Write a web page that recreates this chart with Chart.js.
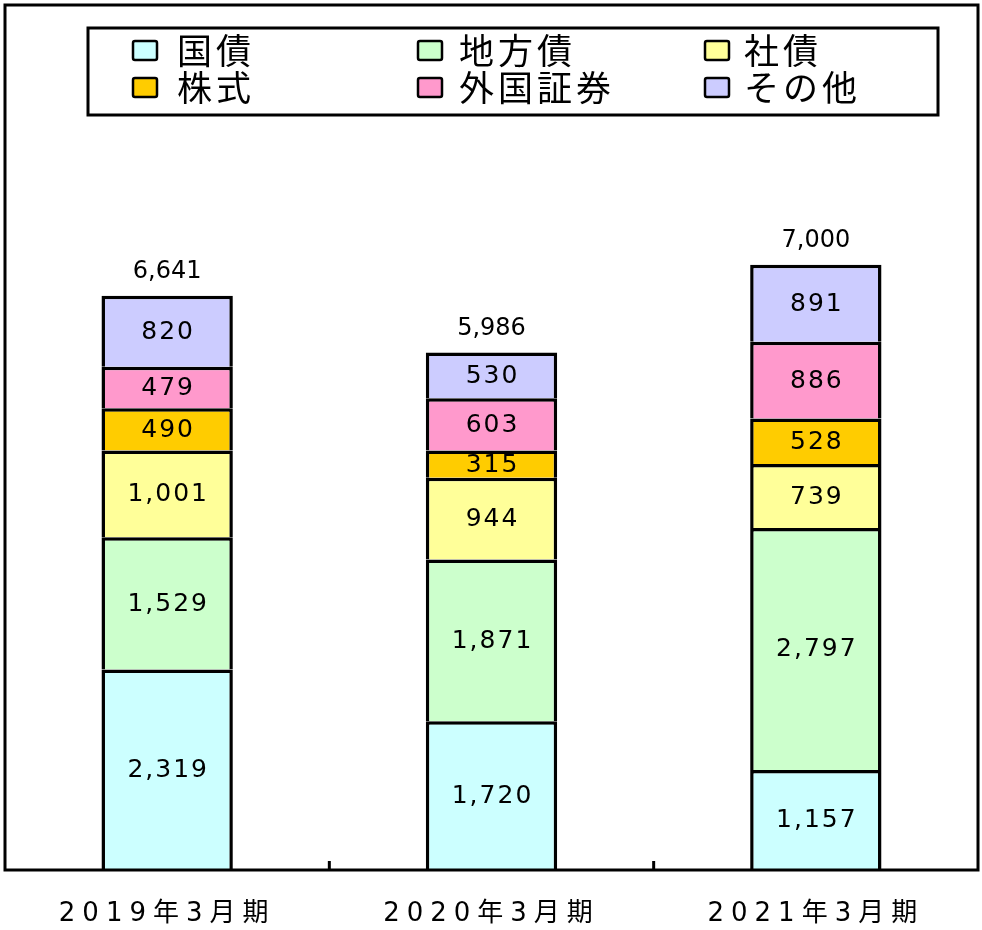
<!DOCTYPE html>
<html>
<head>
<meta charset="utf-8">
<script src="https://cdn.jsdelivr.net/npm/chart.js@4"></script>
<style>
  body { margin: 0; background: #fff; }
</style>
</head>
<body>
<canvas id="chart" width="982" height="930"></canvas>
<script>
const periods = ["2019年3月期", "2020年3月期", "2021年3月期"];
const seriesNames = ["国債", "地方債", "社債", "株式", "外国証券", "その他"];
const kokusai = [2319, 1720, 1157];
const chihousai = [1529, 1871, 2797];
const shasai = [1001, 944, 739];
const kabushiki = [490, 315, 528];
const gaikoku = [479, 603, 886];
const sonota = [820, 530, 891];
const totals = [6641, 5986, 7000];
const colors = ["#ccffff", "#ccffcc", "#ffff99", "#ffcc00", "#ff99cc", "#ccccff"];

const seriesValues = [kokusai, chihousai, shasai, kabushiki, gaikoku, sonota];
const fmt = (v) => v.toLocaleString("en-US");

// frame, inner tick marks, value labels, totals and the boxed legend
const decorations = {
  id: "decorations",
  beforeDraw(chart) {
    chart.ctx.letterSpacing = "7px";
  },
  beforeDatasetsDraw(chart) {
    chart.ctx.letterSpacing = "0px";
  },
  afterDatasetsDraw(chart) {
    const ctx = chart.ctx;
    const area = chart.chartArea;
    const x = chart.scales.x;
    ctx.save();

    // outer frame
    ctx.strokeStyle = "#000";
    ctx.lineWidth = 3;
    ctx.strokeRect(area.left, area.top, area.right - area.left, area.bottom - area.top);

    // tick marks between categories
    for (let i = 0; i < periods.length - 1; i++) {
      const mx = (x.getPixelForValue(i) + x.getPixelForValue(i + 1)) / 2;
      ctx.beginPath();
      ctx.moveTo(mx, area.bottom);
      ctx.lineTo(mx, area.bottom - 9);
      ctx.stroke();
    }

    // values inside segments
    ctx.fillStyle = "#000";
    ctx.textAlign = "center";
    ctx.textBaseline = "middle";
    ctx.font = "25px 'DejaVu Sans'";
    ctx.letterSpacing = "2px";
    chart.data.datasets.forEach((ds, di) => {
      const meta = chart.getDatasetMeta(di);
      meta.data.forEach((bar, i) => {
        ctx.fillText(fmt(ds.data[i]), bar.x + 1, (bar.y + bar.base) / 2 + 1);
      });
    });

    // totals above the bars
    ctx.letterSpacing = "0px";
    ctx.font = "24px 'DejaVu Sans'";
    const topMeta = chart.getDatasetMeta(chart.data.datasets.length - 1);
    topMeta.data.forEach((bar, i) => {
      ctx.fillText(fmt(totals[i]), bar.x, bar.y - 24);
    });

    // legend
    ctx.fillStyle = "#fff";
    ctx.fillRect(88, 28, 850, 87);
    ctx.strokeRect(88, 28, 850, 87);
    const colBox = [133, 418, 705];
    const colText = [177, 459, 744];
    const rowY = [51, 88];
    ctx.font = "35px 'Noto Sans CJK JP'";
    ctx.letterSpacing = "4px";
    ctx.textAlign = "left";
    seriesNames.forEach((name, k) => {
      const c = k % 3, r = Math.floor(k / 3);
      ctx.fillStyle = colors[k];
      ctx.lineWidth = 2.5;
      ctx.beginPath();
      ctx.roundRect(colBox[c], rowY[r] - 10, 24, 19, 2);
      ctx.fill();
      ctx.stroke();
      ctx.fillStyle = "#000";
      ctx.fillText(name, colText[c], rowY[r]);
    });

    ctx.restore();
  }
};

new Chart(document.getElementById("chart"), {
  type: "bar",
  data: {
    labels: periods,
    datasets: seriesNames.map((name, k) => ({
      label: name,
      data: seriesValues[k],
      backgroundColor: colors[k],
      borderColor: "#000",
      borderWidth: 3.5,
      barPercentage: 0.81,
      categoryPercentage: 0.5,
    })),
  },
  options: {
    responsive: false,
    animation: false,
    layout: { padding: { left: 5, right: 4, top: 5, bottom: 3 } },
    plugins: {
      legend: { display: false },
      tooltip: { enabled: false },
    },
    scales: {
      x: {
        stacked: true,
        grid: { display: false, drawTicks: false },
        border: { display: false },
        afterFit: (scale) => { scale.height = 57; },
        ticks: {
          color: "#000",
          padding: 29,
          autoSkip: false,
          maxRotation: 0,
          font: { family: "'DejaVu Sans', 'Noto Sans CJK JP'", size: 26 },
        },
      },
      y: {
        stacked: true,
        display: false,
        min: 0,
        max: 10000,
      },
    },
  },
  plugins: [decorations],
});
</script>
</body>
</html>
